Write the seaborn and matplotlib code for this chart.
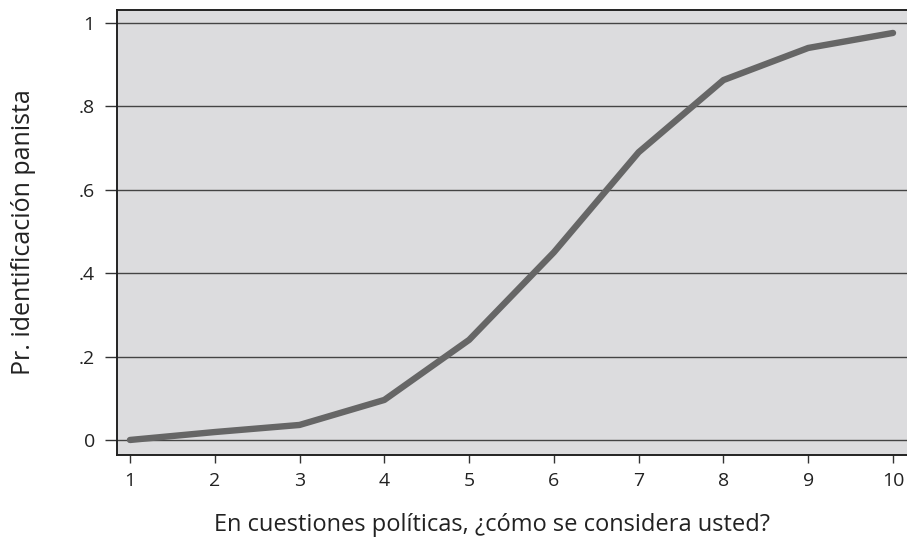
import numpy as np
import pandas as pd
import matplotlib.pyplot as plt
import seaborn as sns

# ---- DATA ----
escala = [1, 2, 3, 4, 5, 6, 7, 8, 9, 10]
prob = [0.0, 0.019, 0.036, 0.096, 0.24, 0.45, 0.69, 0.863, 0.94, 0.976]
yticks = [0, 0.2, 0.4, 0.6, 0.8, 1]
ytick_labels = ["0", ".2", ".4", ".6", ".8", "1"]

df = pd.DataFrame({"escala": escala, "prob": prob})

sns.set_style("white")
plt.rcParams["font.family"] = ["Open Sans", "DejaVu Sans"]

fig = plt.figure(figsize=(9.07, 5.41), dpi=100)
ax = fig.add_axes([0.129, 0.159, 0.871, 0.8225])
ax.set_facecolor("#dcdcde")

# horizontal grid lines
for v in yticks:
    ax.axhline(v, color="#444444", lw=1.0, zorder=1)

sns.lineplot(data=df, x="escala", y="prob", color="#666666", lw=4.6,
             solid_capstyle="round", ax=ax, zorder=3)

ax.set_xlim(0.847, 10.165)
ax.set_ylim(-0.036, 1.031)
ax.set_xticks(escala)
ax.set_yticks(yticks)
ax.set_yticklabels(ytick_labels)
ax.tick_params(axis="x", direction="out", length=6, width=1, color="#333333",
               labelsize=14, pad=6, bottom=True, labelcolor="#222222")
ax.tick_params(axis="y", direction="out", length=9, width=1, color="#333333",
               labelsize=14, pad=7, left=True, labelcolor="#222222")

for s in ["left", "top", "bottom"]:
    ax.spines[s].set_color("#222222")
    ax.spines[s].set_linewidth(1.4)
ax.spines["right"].set_visible(False)

ax.set_xlabel("En cuestiones políticas, ¿cómo se considera usted?", fontsize=17,
              labelpad=17, color="#222222")
ax.xaxis.label.set_x(0.475)
ax.set_ylabel("Pr. identificación panista", fontsize=18, color="#222222")
ax.yaxis.set_label_coords(-0.103, 0.5)

plt.savefig("out.png", dpi=100)
